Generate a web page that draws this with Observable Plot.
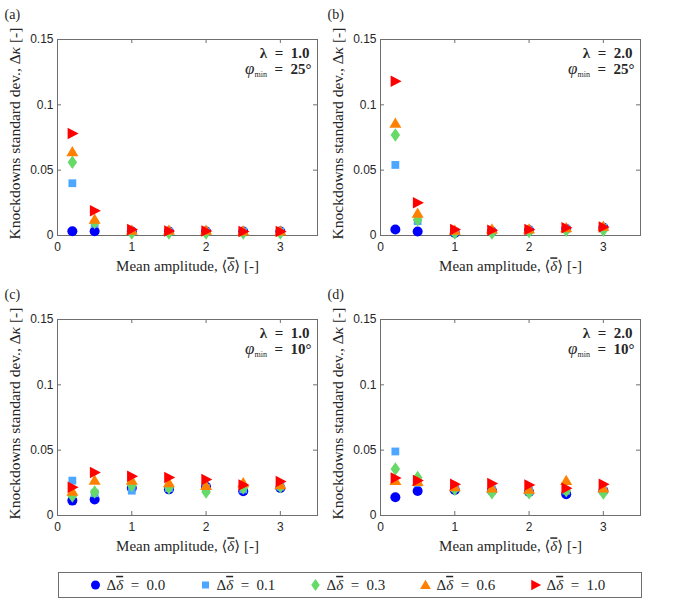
<!DOCTYPE html>
<html><head><meta charset="utf-8">
<script src="https://cdn.jsdelivr.net/npm/d3@7"></script>
<script src="https://cdn.jsdelivr.net/npm/@observablehq/plot@0.6"></script>
<style>
body{margin:0;background:#fff;}
#root{position:relative;width:673px;height:612px;overflow:hidden;background:#fff;}
.panel{position:absolute;}
</style></head><body><div id="root"></div>
<script>
// ---- data ----
const amplitudes = [0.2, 0.5, 1, 1.5, 2, 2.5, 3];
const deltaLabels = ["0.0", "0.1", "0.3", "0.6", "1.0"];
const seriesColors = ["#0000ff", "#4da6ff", "#66d966", "#ff8000", "#ff0000"];
const panelTags = ["(a)", "(b)", "(c)", "(d)"];
const panelLambda = ["1.0", "2.0", "1.0", "2.0"];
const panelPhi = ["25°", "25°", "10°", "10°"];
const xTicks = [0, 1, 2, 3];
const yTicks = [0, 0.05, 0.1, 0.15];

// rows: Δδ̄ = 0.0, 0.1, 0.3, 0.6, 1.0 ; columns: amplitudes
const kdA = [
  [0.0033, 0.0033, 0.003, 0.003, 0.003, 0.003, 0.003],
  [0.040, 0.009, 0.003, 0.003, 0.003, 0.003, 0.003],
  [0.056, 0.010, 0.002, 0.002, 0.002, 0.002, 0.002],
  [0.064, 0.0125, 0.004, 0.004, 0.004, 0.0035, 0.0035],
  [0.078, 0.019, 0.0045, 0.0035, 0.0035, 0.003, 0.003]
];
const kdB = [
  [0.0046, 0.003, 0.002, 0.003, 0.004, 0.005, 0.006],
  [0.054, 0.011, 0.003, 0.003, 0.004, 0.005, 0.006],
  [0.077, 0.012, 0.002, 0.002, 0.003, 0.004, 0.004],
  [0.086, 0.017, 0.004, 0.005, 0.005, 0.006, 0.007],
  [0.118, 0.025, 0.0045, 0.004, 0.0045, 0.006, 0.0065]
];
const kdC = [
  [0.0114, 0.0122, 0.021, 0.020, 0.022, 0.0186, 0.021],
  [0.0267, 0.017, 0.019, 0.021, 0.021, 0.020, 0.022],
  [0.015, 0.018, 0.023, 0.021, 0.018, 0.021, 0.022],
  [0.0186, 0.027, 0.027, 0.025, 0.023, 0.025, 0.0236],
  [0.0216, 0.033, 0.030, 0.029, 0.0275, 0.0234, 0.026]
];
const kdD = [
  [0.014, 0.0188, 0.0196, 0.019, 0.018, 0.0163, 0.019],
  [0.049, 0.025, 0.021, 0.020, 0.019, 0.019, 0.019],
  [0.0356, 0.029, 0.020, 0.0175, 0.0175, 0.019, 0.0173],
  [0.0267, 0.026, 0.022, 0.021, 0.020, 0.0267, 0.021],
  [0.0287, 0.0267, 0.024, 0.0244, 0.0234, 0.0208, 0.024]
];
const panels = [kdA, kdB, kdC, kdD];

// ---- symbols (MATLAB-like markers) ----
const symCircle = {draw(c, s) { const r = Math.sqrt(s / Math.PI); c.moveTo(r, 0); c.arc(0, 0, r, 0, 2 * Math.PI); c.closePath(); }};
const symSquare = {draw(c, s) { const r = Math.sqrt(s / Math.PI) * 0.78; c.rect(-r, -r, 2 * r, 2 * r); }};
const symDiamond = {draw(c, s) { const r = Math.sqrt(s / Math.PI); const w = r * 0.95, h = r * 1.35; c.moveTo(0, -h); c.lineTo(w, 0); c.lineTo(0, h); c.lineTo(-w, 0); c.closePath(); }};
const symTriUp = {draw(c, s) { const r = Math.sqrt(s / Math.PI); c.moveTo(0, -r * 1.15); c.lineTo(r * 1.2, r * 0.9); c.lineTo(-r * 1.2, r * 0.9); c.closePath(); }};
const symTriRight = {draw(c, s) { const r = Math.sqrt(s / Math.PI); c.moveTo(r * 1.25, 0); c.lineTo(-r * 0.95, -r * 1.15); c.lineTo(-r * 0.95, r * 1.15); c.closePath(); }};
const seriesSymbols = [symCircle, symSquare, symDiamond, symTriUp, symTriRight];

const SERIF = "'Liberation Serif', 'DejaVu Serif', serif";
const SANS = "'Liberation Sans', Arial, sans-serif";
const GRAY = "#6e6e6e";

function barDelta(t) {
  t.append("tspan").attr("font-style", "italic").attr("text-decoration", "overline").text("δ");
}

function makePanel(kd, i) {
  const W = 330, H = 290, mL = 57, mR = 13, mT = 39, mB = 55;
  const fw = W - mL - mR, fh = H - mT - mB;
  const series = kd.map((vals, s) => vals.map((v, j) => ({amp: amplitudes[j], kd: v, s})));
  const marks = [
    Plot.frame({stroke: GRAY}),
    Plot.ruleX(xTicks, {x: d => d, insetTop: fh - 4, stroke: GRAY}),
    Plot.ruleX(xTicks, {x: d => d, insetBottom: fh - 4, stroke: GRAY}),
    Plot.ruleY(yTicks, {y: d => d, insetRight: fw - 4, stroke: GRAY}),
    Plot.ruleY(yTicks, {y: d => d, insetLeft: fw - 4, stroke: GRAY}),
    Plot.axisX(xTicks, {tickSize: 0, tickPadding: 7, label: null, color: "#262626", fontSize: 12, fontFamily: SANS}),
    Plot.axisY(yTicks, {tickSize: 0, tickPadding: 4, label: null, color: "#262626", fontSize: 12, fontFamily: SANS,
      tickFormat: d => d === 0 ? "0" : String(d)}),
    ...series.map((rows, s) => Plot.dot(rows, {x: "amp", y: "kd", r: 5, symbol: seriesSymbols[s], fill: seriesColors[s], stroke: null})),
    Plot.text(["Knockdowns standard dev., Δκ [-]"], {text: d => d, frameAnchor: "left", textAnchor: "middle", lineAnchor: "middle",
      rotate: -90, dx: -42, dy: -4, fontFamily: SERIF, fontSize: 15.5, fill: "#262626"}),
    Plot.text(["Mean amplitude, ⟨δ⟩ [-]"], {text: d => d, frameAnchor: "bottom", textAnchor: "middle", lineAnchor: "middle", dy: 31,
      fontFamily: SERIF, fontSize: 15, fill: "#262626"}),
    Plot.text([panelTags[i]], {text: d => d, frameAnchor: "top-left", textAnchor: "start", lineAnchor: "middle", dx: -53, dy: -25,
      fontFamily: SERIF, fontSize: 14, fill: "#262626"}),
    Plot.text(["λ = " + panelLambda[i]], {text: d => d, frameAnchor: "top-right", textAnchor: "end", lineAnchor: "middle", dx: -8, dy: 14,
      fontFamily: SERIF, fontSize: 15, fontWeight: "bold", fill: "#262626"}),
    Plot.text(["PHI|" + panelPhi[i]], {text: d => d, frameAnchor: "top-right", textAnchor: "end", lineAnchor: "middle", dx: -6, dy: 30,
      fontFamily: SERIF, fontSize: 15, fontWeight: "bold", fill: "#262626"})
  ];
  const svg = Plot.plot({
    width: W, height: H, marginLeft: mL, marginRight: mR, marginTop: mT, marginBottom: mB,
    x: {domain: [0, 3.5]},
    y: {domain: [0, 0.15]},
    style: {fontFamily: SANS, fontSize: "12px", background: "transparent", overflow: "visible"},
    marks
  });
  d3.select(svg).selectAll("text").each(function () {
    const t = d3.select(this);
    const s = t.text();
    if (s.startsWith("PHI|")) {
      const val = s.slice(4);
      t.text(null);
      t.append("tspan").attr("font-style", "italic").attr("font-weight", "normal").attr("font-size", 17).text("φ");
      t.append("tspan").attr("font-size", 8).attr("font-weight", "normal").attr("dy", 3).text("min");
      t.append("tspan").attr("dy", -3).text("\u2002=\u2002" + val);
    } else if (s.startsWith("Mean amplitude")) {
      t.text(null);
      t.append("tspan").text("Mean amplitude, ⟨");
      barDelta(t);
      t.append("tspan").text("⟩ [-]");
    } else if (s.startsWith("Knockdowns")) {
      t.text(null);
      t.append("tspan").text("Knockdowns standard dev., Δ");
      t.append("tspan").attr("font-style", "italic").text("κ");
      t.append("tspan").text(" [-]");
    } else if (s.startsWith("λ = ")) {
      t.text(null);
      t.append("tspan").text("λ\u2002=\u2002" + s.slice(4));
    }
  });
  return svg;
}

const root = document.getElementById("root");
const offsets = [[0, 0], [323, 0], [0, 280], [323, 280]];
panels.forEach((kd, i) => {
  const div = document.createElement("div");
  div.className = "panel";
  div.style.left = offsets[i][0] + "px";
  div.style.top = offsets[i][1] + "px";
  div.appendChild(makePanel(kd, i));
  root.appendChild(div);
});

// ---- legend ----
const legendItems = deltaLabels.map((lab, s) => ({lab, s}));
const legend = Plot.plot({
  width: 673, height: 52, marginLeft: 58, marginRight: 32, marginTop: 12, marginBottom: 15,
  x: {type: "point", domain: deltaLabels, range: [94, 536], padding: 0, axis: null},
  style: {background: "transparent"},
  marks: [
    Plot.frame({stroke: GRAY}),
    ...legendItems.map(d => Plot.dot([d], {x: "lab", r: 4.5, symbol: seriesSymbols[d.s], fill: seriesColors[d.s], stroke: null})),
    Plot.text(legendItems, {x: "lab", text: d => "LEG|" + d.lab, dx: 11, textAnchor: "start", fontFamily: SERIF, fontSize: 15, fill: "#262626"})
  ]
});
d3.select(legend).selectAll("text").each(function () {
  const t = d3.select(this);
  const s = t.text();
  if (s.startsWith("LEG|")) {
    t.text(null);
    t.append("tspan").text("Δ");
    barDelta(t);
    t.append("tspan").text("\u2002=\u2002" + s.slice(4));
  }
});
const ldiv = document.createElement("div");
ldiv.className = "panel";
ldiv.style.left = "0px";
ldiv.style.top = "560px";
ldiv.appendChild(legend);
root.appendChild(ldiv);
</script></body></html>
